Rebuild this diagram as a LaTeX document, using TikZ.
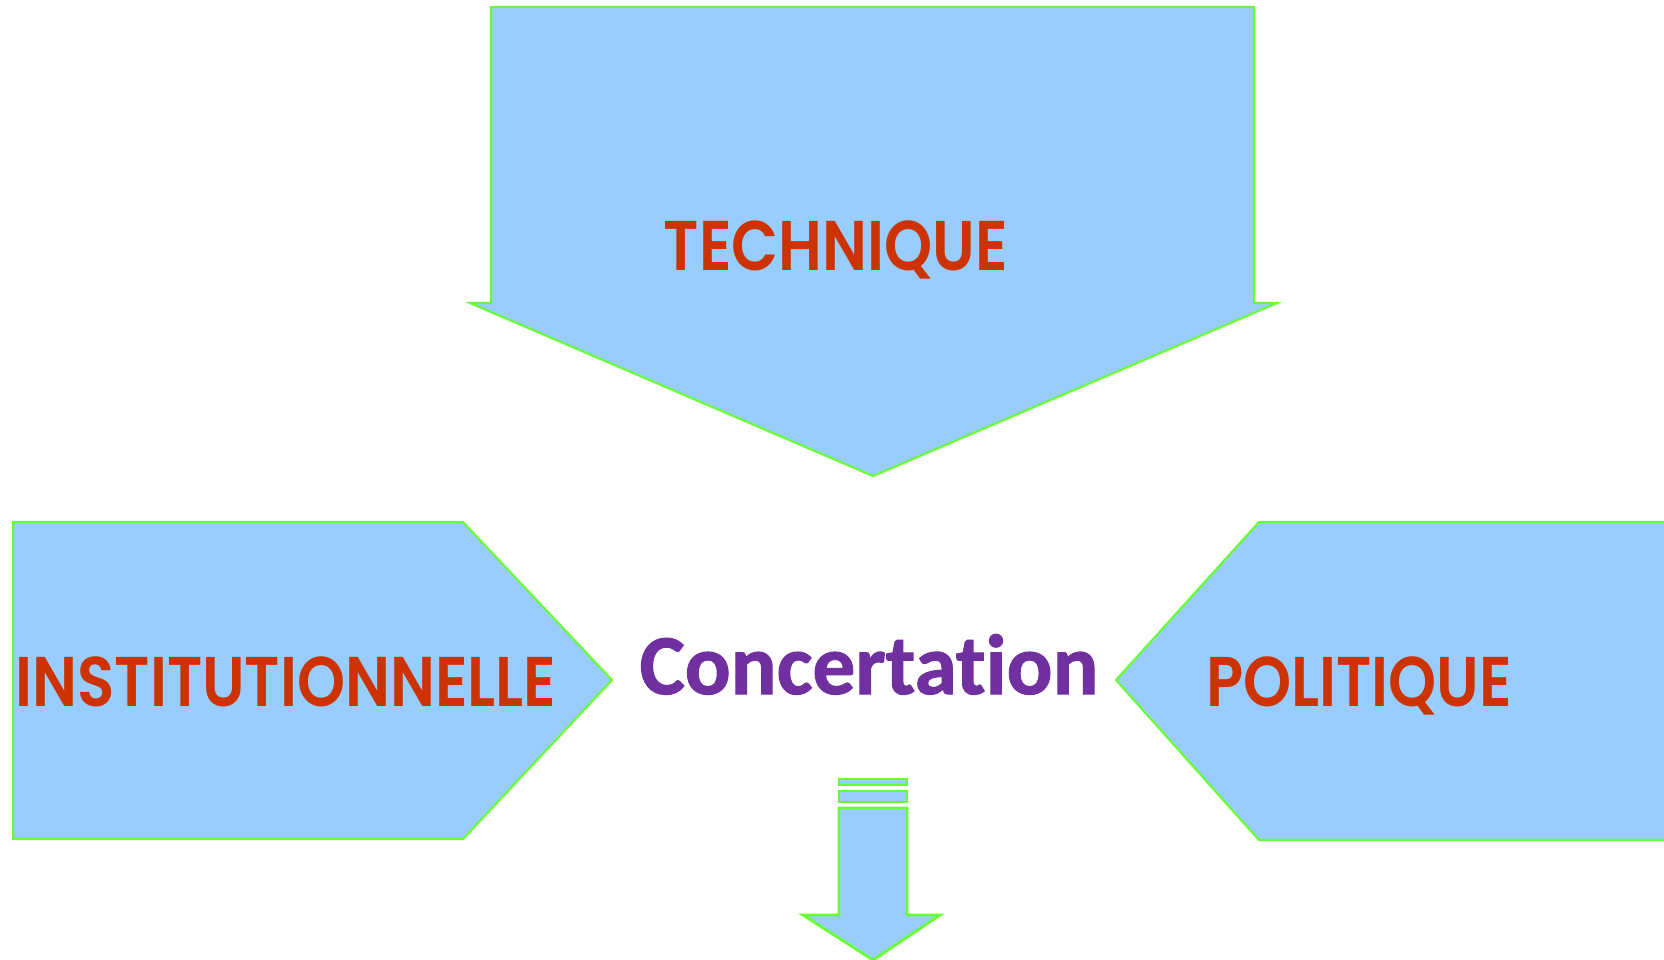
\documentclass[tikz,border=0pt]{standalone}
\usepackage{fontspec}
\newfontfamily\labelfont[FakeStretch=0.87]{Poppins SemiBold}
\newfontfamily\centrefont[Ligatures=NoCommon, FakeBold=1.2]{Carlito}
\usetikzlibrary{positioning}

\definecolor{arrowfill}{HTML}{99CCFF}
\definecolor{arrowline}{HTML}{66FF33}
\definecolor{labelred}{HTML}{CC3300}
\definecolor{concertpurple}{HTML}{7030A0}

\begin{document}
\begin{tikzpicture}[x=0.01cm, y=-0.01cm]
  \tikzset{block_arrow/.style={fill=arrowfill, draw=arrowline, line width=0.6pt, line join=miter}}
  \tikzset{side_label/.style={anchor=base, text=labelred, font=\labelfont\fontsize{20}{24}\selectfont}}
  \useasboundingbox (0,0) rectangle (1664,959);

  % the three big arrows
  \draw[block_arrow] (491,7) -- (1254,7) -- (1254,303) -- (1277,303) -- (873,476) -- (470,303) -- (491,303) -- cycle;
  \draw[block_arrow] (13,522) -- (463,522) -- (612,680) -- (463,839) -- (13,839) -- cycle;
  \draw[block_arrow] (1690,522) -- (1259,522) -- (1116,680) -- (1259,840) -- (1690,840) -- cycle;

  % small striped arrow
  \draw[block_arrow, line width=0.8pt] (839,779) rectangle (907,785);
  \draw[block_arrow, line width=0.8pt] (839,791) rectangle (907,802);
  \draw[block_arrow, line width=0.8pt] (839,808) -- (907,808) -- (907,915) -- (940,915) -- (873,960) -- (803,915) -- (839,915) -- cycle;

  \node[side_label] (technique) at (836,270) {TECHNIQUE};
  \node[side_label] (institution) at (286,706) {INSTITUTIONNELLE};
  \node[side_label] (politique) at (1359,706) {POLITIQUE};
  \node[anchor=base, text=concertpurple, font=\centrefont\bfseries\fontsize{24.3}{29}\selectfont] (concertation) at (869,694) {Concertation};
\end{tikzpicture}
\end{document}
